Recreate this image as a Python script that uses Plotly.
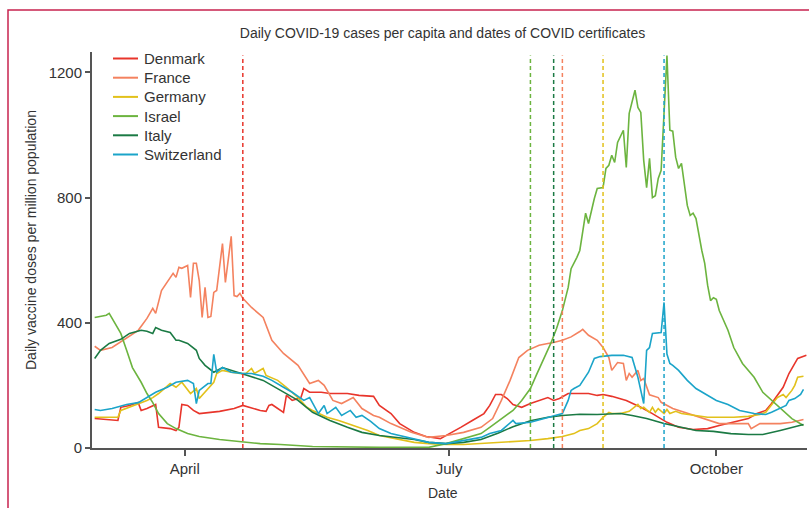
import pandas as pd
import plotly.graph_objects as go

# ---------------- data (days since 1 March 2021, daily values per million) ----------------
BASE = pd.Timestamp("2021-03-01")

countries = ["Denmark", "France", "Germany", "Israel", "Italy", "Switzerland"]

denmark_days = [0, 8, 9, 12, 15, 16, 18, 21, 22, 26, 28, 29, 30, 32, 34, 36, 43, 48, 51, 53, 57, 59, 60, 61, 63, 65,
                66, 68, 69, 71, 72, 74, 78, 81, 87, 91, 96, 98, 102, 105, 110, 114, 119, 121, 126, 130, 134, 136, 138,
                140, 142, 144, 147, 150, 153, 156, 158, 160, 163, 167, 170, 173, 175, 178, 183, 188, 192, 197, 201,
                206, 211, 215, 220, 225, 228, 231, 233, 237, 239, 242, 245]
denmark_vals = [94, 88, 130, 136, 145, 120, 126, 139, 66, 62, 56, 66, 139, 136, 120, 110, 117, 126, 136, 130, 120, 117,
                136, 139, 126, 114, 168, 152, 155, 161, 190, 178, 178, 174, 174, 168, 165, 136, 110, 78, 50, 37, 30, 40,
                66, 88, 110, 136, 171, 171, 158, 139, 130, 142, 152, 161, 152, 158, 174, 174, 174, 168, 171, 165, 152,
                130, 110, 82, 66, 59, 62, 72, 82, 94, 110, 120, 142, 194, 238, 286, 296]

france_days = [0, 2, 6, 11, 15, 18, 20, 21, 22, 23, 27, 28, 29, 30, 32, 33, 34, 35, 36, 37, 38, 39, 40, 41, 42, 44, 45,
               47, 48, 49, 50, 51, 54, 58, 61, 65, 70, 74, 77, 79, 82, 85, 89, 92, 96, 98, 102, 109, 115, 121, 127, 133,
               137, 140, 143, 145, 146, 149, 151, 153, 156, 158, 161, 164, 167, 168, 170, 173, 175, 177, 178, 180, 182,
               183, 184, 185, 187, 188, 189, 191, 194, 195, 199, 201, 206, 211, 215, 220, 225, 226, 229, 233, 236, 240,
               244]
france_vals = [325, 312, 321, 353, 376, 414, 446, 430, 471, 503, 558, 545, 577, 574, 583, 481, 590, 590, 535, 417, 513,
               417, 420, 497, 503, 653, 529, 676, 487, 484, 494, 478, 449, 417, 344, 302, 264, 206, 216, 200, 152, 142,
               161, 126, 104, 98, 78, 50, 34, 40, 50, 66, 94, 152, 216, 264, 289, 312, 321, 328, 334, 337, 344, 355,
               372, 379, 360, 344, 321, 289, 248, 273, 270, 216, 238, 226, 248, 216, 222, 170, 161, 146, 126, 120, 104,
               88, 78, 78, 78, 62, 78, 78, 78, 82, 91]

germany_days = [0, 8, 9, 12, 16, 18, 20, 22, 24, 26, 28, 30, 33, 35, 36, 37, 40, 41, 42, 44, 47, 50, 52, 54, 55, 58, 59,
                63, 66, 70, 73, 75, 80, 84, 89, 94, 98, 104, 110, 115, 121, 127, 133, 139, 144, 150, 156, 161, 165, 167,
                170, 173, 175, 177, 178, 181, 184, 187, 188, 189, 191, 192, 193, 194, 196, 197, 198, 200, 202, 206, 211,
                215, 220, 225, 229, 231, 233, 235, 237, 238, 240, 241, 242, 244]
germany_vals = [98, 98, 120, 130, 145, 152, 161, 174, 190, 206, 194, 210, 174, 190, 158, 168, 200, 210, 238, 248, 242,
                238, 238, 254, 238, 254, 232, 216, 194, 161, 130, 120, 98, 88, 72, 56, 40, 30, 18, 14, 11, 11, 14, 18,
                21, 24, 30, 37, 46, 56, 62, 78, 98, 114, 110, 110, 117, 139, 126, 130, 114, 130, 114, 126, 110, 123,
                110, 117, 110, 104, 98, 98, 98, 101, 107, 114, 136, 161, 171, 161, 184, 200, 226, 229]

israel_days = [0, 2, 4, 5, 6, 9, 11, 13, 16, 18, 20, 22, 25, 28, 32, 36, 43, 50, 57, 64, 75, 98, 115, 121, 127, 133, 136,
               140, 144, 147, 150, 152, 154, 157, 159, 161, 163, 164, 166, 167, 169, 170, 172, 173, 175, 176, 177, 178,
               179, 180, 182, 183, 184, 185, 186, 187, 188, 189, 190, 191, 192, 193, 194, 195, 196, 197, 198, 199, 200,
               201, 202, 203, 204, 205, 206, 207, 208, 209, 210, 211, 212, 213, 214, 215, 218, 220, 223, 227, 230, 233,
               237, 240, 244]
israel_vals = [417, 420, 424, 430, 414, 366, 312, 257, 210, 174, 145, 110, 78, 62, 46, 37, 27, 21, 14, 11, 5, 2, 2, 14,
               30, 46, 66, 94, 120, 152, 190, 232, 273, 334, 382, 439, 513, 573, 609, 631, 750, 717, 797, 829, 832, 893,
               903, 935, 912, 976, 1015, 896, 1069, 1111, 1143, 1088, 1072, 919, 832, 925, 800, 806, 861, 887, 1063,
               1254, 1015, 1012, 929, 893, 909, 845, 775, 743, 750, 733, 680, 631, 590, 520, 471, 480, 475, 439, 376,
               321, 270, 226, 178, 152, 120, 94, 72]

italy_days = [0, 2, 5, 9, 12, 16, 18, 20, 21, 23, 26, 28, 29, 32, 35, 36, 38, 41, 44, 47, 53, 58, 64, 70, 75, 81, 87, 92,
              98, 104, 110, 115, 121, 127, 133, 139, 144, 150, 156, 161, 167, 173, 181, 185, 190, 196, 202, 207, 213,
              219, 225, 230, 236, 240, 244]
italy_vals = [286, 312, 334, 347, 366, 376, 373, 366, 385, 376, 369, 344, 344, 334, 312, 286, 264, 242, 257, 248, 232,
              216, 184, 152, 114, 88, 66, 50, 40, 34, 27, 18, 14, 18, 27, 48, 68, 87, 98, 104, 108, 107, 110, 104, 94,
              78, 66, 56, 53, 46, 43, 43, 56, 66, 75]

switzerland_days = [0, 2, 6, 11, 15, 18, 21, 25, 28, 32, 34, 35, 36, 39, 40, 41, 42, 44, 47, 51, 54, 58, 61, 65, 68, 72,
                    74, 77, 79, 80, 83, 85, 88, 90, 92, 95, 98, 102, 105, 110, 115, 121, 127, 133, 136, 140, 144, 145,
                    150, 156, 159, 161, 163, 164, 165, 167, 170, 172, 174, 178, 182, 185, 187, 189, 190, 191, 192, 195,
                    196, 197, 198, 199, 201, 204, 207, 211, 214, 218, 222, 227, 231, 233, 237, 238, 239, 241, 243, 244]
switzerland_vals = [123, 120, 126, 139, 145, 161, 178, 194, 210, 216, 206, 142, 184, 206, 206, 299, 242, 257, 242, 238,
                    238, 229, 216, 194, 178, 152, 161, 110, 136, 110, 130, 104, 120, 98, 104, 85, 62, 46, 40, 30, 18,
                    14, 24, 34, 46, 56, 88, 78, 82, 98, 104, 110, 152, 184, 190, 200, 242, 286, 292, 296, 296, 289,
                    226, 142, 312, 321, 366, 369, 465, 300, 270, 264, 248, 216, 190, 168, 152, 139, 120, 110, 107, 114,
                    130, 136, 152, 158, 171, 187]

# dates on which COVID certificates were introduced
cert_dates = ["2021-04-21", "2021-08-09", "2021-08-23", "2021-07-29", "2021-08-06", "2021-09-13"]  # same order as countries

colors = ["#e8352b", "#f4825f", "#e2c11b", "#6cb43f", "#1b7a44", "#1ba4c9"]

y_ticks = [0, 400, 800, 1200]
x_tick_dates = ["2021-04-01", "2021-07-01", "2021-10-01"]
x_tick_labels = ["April", "July", "October"]

series_days = [denmark_days, france_days, germany_days, israel_days, italy_days, switzerland_days]
series_vals = [denmark_vals, france_vals, germany_vals, israel_vals, italy_vals, switzerland_vals]

# ---------------- figure ----------------
FONT = "Liberation Sans, Arial, sans-serif"
TXT = "#333333"
AX = "#555555"

# plot-area geometry in pixels (for placing paper-referenced decorations)
W, H = 809, 508
L, R, T, B = 92, 2, 52, 60
PW, PH = W - L - R, H - T - B


def px(xp):
    return (xp - L) / PW


def py(yp):
    return (H - B - yp) / PH


fig = go.Figure()
for name, d, v, c in zip(countries, series_days, series_vals, colors):
    dates = BASE + pd.to_timedelta(d, unit="D")
    fig.add_trace(go.Scatter(x=dates, y=v, mode="lines", name=name, showlegend=False,
                             line=dict(color=c, width=1.6), hoverinfo="x+y+name"))

for dt, c in zip(cert_dates, colors):
    fig.add_shape(type="line", xref="x", yref="y", x0=dt, x1=dt, y0=0, y1=1254,
                  line=dict(color=c, width=1.5, dash="4px,3px"), layer="above")

# legend (drawn as paper-referenced keys + labels)
annotations = []
for i, (name, c) in enumerate(zip(countries, colors)):
    yc = py(58.5 + 19.2 * i)
    fig.add_shape(type="line", xref="paper", yref="paper", x0=px(113), x1=px(138), y0=yc, y1=yc,
                  line=dict(color=c, width=2))
    annotations.append(dict(text=name, xref="paper", yref="paper", x=px(142), y=yc, showarrow=False,
                            xanchor="left", yanchor="middle", font=dict(family=FONT, size=15, color=TXT)))

# outer crimson frame
fig.add_shape(type="rect", xref="paper", yref="paper", x0=px(8), x1=px(830), y0=py(530), y1=py(10),
              line=dict(color="#c8234f", width=1.5), fillcolor="rgba(0,0,0,0)")

annotations += [
    dict(text="Date", xref="paper", yref="paper", x=px(443), y=py(493), showarrow=False,
         xanchor="center", yanchor="middle", font=dict(family=FONT, size=14, color=TXT)),
    dict(text="Daily vaccine doses per million population", xref="paper", yref="paper",
         x=px(31), y=py(240), textangle=-90, showarrow=False,
         xanchor="center", yanchor="middle", font=dict(family=FONT, size=14, color=TXT)),
]

x_start = BASE - pd.Timedelta(hours=22)
x_end = BASE + pd.Timedelta(days=245, hours=5)

fig.update_layout(
    width=W, height=H,
    margin=dict(l=L, r=R, t=T, b=B, autoexpand=False),
    paper_bgcolor="white", plot_bgcolor="white",
    font=dict(family=FONT, size=15, color=TXT),
    title=dict(text="Daily COVID-19 cases per capita and dates of COVID certificates",
               x=px(442.5), xref="paper", xanchor="center", y=1 - 33 / H, yref="container", yanchor="middle",
               font=dict(family=FONT, size=14, color=TXT)),
    showlegend=False,
    annotations=annotations,
)
fig.update_xaxes(range=[x_start, x_end], tickvals=x_tick_dates, ticktext=x_tick_labels,
                 showgrid=False, zeroline=False, showline=True, linecolor=AX, linewidth=2,
                 ticks="outside", ticklen=6, tickwidth=1.5, tickcolor=AX,
                 tickfont=dict(family=FONT, size=15, color=TXT))
fig.update_yaxes(range=[0, 1265], tickvals=y_ticks, showgrid=False, zeroline=False,
                 showline=True, linecolor=AX, linewidth=2, ticks="outside", ticklen=5, tickwidth=1.5,
                 tickcolor=AX, tickfont=dict(family=FONT, size=15, color=TXT))

fig.write_html("out.html", config={"displayModeBar": False},
               post_script="document.body.style.margin='0';")
